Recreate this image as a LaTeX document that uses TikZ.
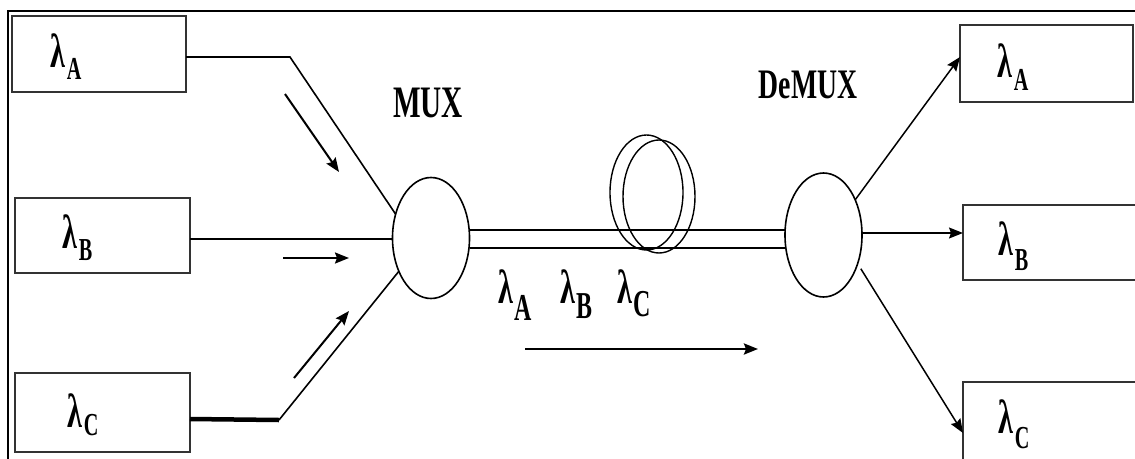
\documentclass[tikz,border=0pt]{standalone}
\usepackage{fontspec}
\setmainfont{Liberation Serif}
\usetikzlibrary{shapes.geometric,arrows.meta,calc}

\newcommand\wl[4]{\scalebox{0.63}[1]{\bfseries\fontsize{#2}{#2}\selectfont λ\kern3pt\raisebox{-#4pt}{\fontsize{#3}{#3}\selectfont #1}}}

\begin{document}
\begin{tikzpicture}[x=1pt,y=-1pt,
  box/.style={draw=black!80, line width=2.2pt, rectangle, inner sep=0pt, outer sep=0pt},
  oval/.style={draw, ellipse, line width=1.6pt, inner sep=0pt, outer sep=0pt},
  wire/.style={line width=1.6pt},
  flowl/.style={line width=2pt, -{Stealth[length=14pt,width=11pt,inset=2pt]}},
  flowr/.style={line width=1.5pt, -{Stealth[length=14pt,width=11pt,inset=2pt]}},
  lab/.style={anchor=base west, inner sep=0pt},
  headlab/.style={anchor=base, inner sep=0pt}]
\useasboundingbox (0,0) rectangle (1135,458);
\fill[white] (0,0) rectangle (1135,458);
\draw[line width=2pt] (8,462) -- (8,11) -- (1138,11);

% boxes
\node[box, minimum width=174, minimum height=76] (lA) at (99,54) {};
\node[box, minimum width=175, minimum height=75] (lB) at (102.5,235.5) {};
\node[box, minimum width=175, minimum height=79] (lC) at (102.5,412.5) {};
\node[box, minimum width=173, minimum height=77] (rA) at (1046.5,63.5) {};
\node[box, minimum width=180, minimum height=75] (rB) at (1053,242.5) {};
\node[box, minimum width=180, minimum height=84] (rC) at (1053,424) {};

% box labels
\node[lab] (lAt) at (50,67) {\wl{A}{48}{32}{12}};
\node[lab] (lBt) at (62,248) {\wl{B}{48}{32}{12}};
\node[lab] (lCt) at (67,427) {\wl{C}{48}{32}{8}};
\node[lab] (rAt) at (997,77) {\wl{A}{48}{32}{13}};
\node[lab] (rBt) at (998,255) {\wl{B}{48}{32}{15}};
\node[lab] (rCt) at (998,433) {\wl{C}{48}{32}{15}};

% mux / demux / coil
\node[oval, minimum width=77, minimum height=121] (mux) at (431,238) {};
\node[oval, minimum width=77, minimum height=124] (demux) at (823.5,235) {};
\node[oval, line width=1.4pt, minimum width=73, minimum height=115] (c1) at (646.5,192.5) {};
\node[oval, line width=1.4pt, minimum width=72, minimum height=113] (c2) at (659,196.5) {};

\node[headlab, font=\bfseries\fontsize{45}{45}\selectfont] (muxt) at (428,117) {\scalebox{0.65}[1]{MUX}};
\node[headlab, font=\bfseries\fontsize{42}{42}\selectfont] (demuxt) at (808,98) {\scalebox{0.66}[1]{DeMUX}};

% fibre
\draw[wire, line width=2pt] (mux.east |- 0,230) -- (demux.west |- 0,230);
\draw[wire, line width=2pt] (mux.east |- 0,248) -- (demux.west |- 0,248);

\node[lab] (fA) at (498,303) {\wl{A}{48}{38}{17}};
\node[lab] (fB) at (560,303) {\wl{B}{48}{38}{15}};
\node[lab] (fC) at (617,303) {\wl{C}{48}{38}{13}};

% inputs
\coordinate (kA) at (290,57);
\draw[wire] (lA.east |- 0,57) -- (kA) -- (mux.146);
\draw[wire] (lB.east |- 0,239) -- (mux.west |- 0,239);
\coordinate (kC) at (279,420);
\draw[line width=4.5pt] (lC.east |- 0,419) -- (kC);
\draw[wire] (kC) -- (mux.226);

% direction arrows
\coordinate (aA1) at (285,94);  \coordinate (aA2) at (339,172);
\coordinate (aB1) at (283,258); \coordinate (aB2) at (349,258);
\coordinate (aC1) at (294,378); \coordinate (aC2) at (349,311);
\coordinate (aF1) at (525,349); \coordinate (aF2) at (758,349);
\draw[flowl] (aA1) -- (aA2);
\draw[flowl] (aB1) -- (aB2);
\draw[flowl] (aC1) -- (aC2);
\draw[flowl, line width=2.5pt] (aF1) -- (aF2);

% outputs
\draw[flowr] (demux.48) -- (rA.west |- 0,57);
\draw[flowr] (demux.east |- 0,233) -- (rB.west |- 0,233);
\draw[flowr, shorten <=6pt] (demux.-40) -- (rC.west |- 0,433);
\end{tikzpicture}
\end{document}
